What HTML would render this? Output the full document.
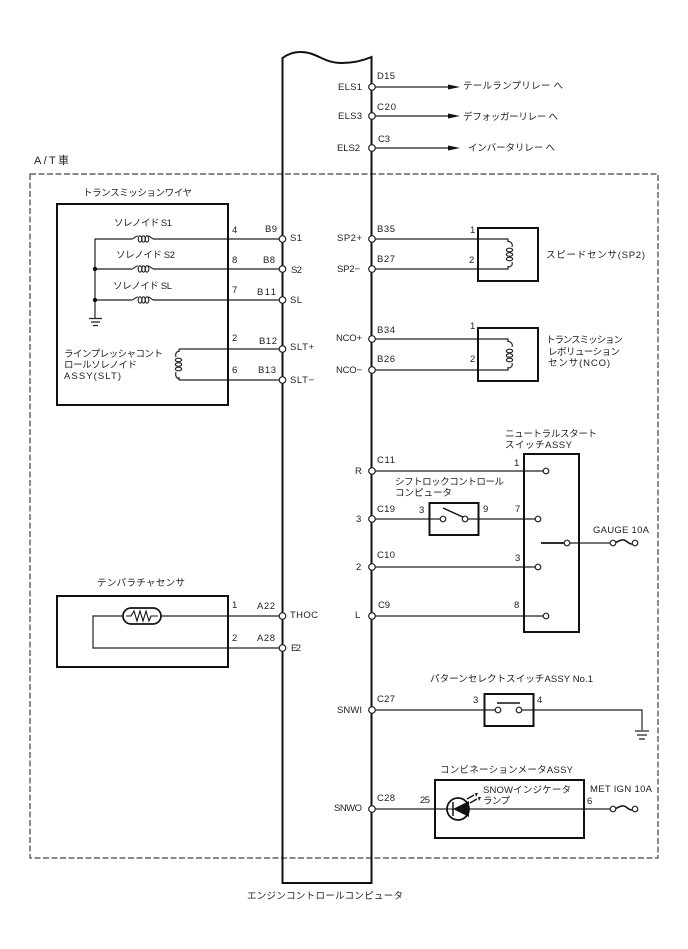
<!DOCTYPE html>
<html><head><meta charset="utf-8"><style>
html,body{margin:0;padding:0;background:#fff}
svg{display:block}
text{font-family:"Liberation Sans","Noto Sans CJK JP",sans-serif;font-size:9.5px;fill:#222}
.b{fill:none;stroke:#111;stroke-width:2}
.w{fill:none;stroke:#222;stroke-width:1.2}
.c{fill:#fff;stroke:#222;stroke-width:1.2}
.l{fill:none;stroke:#222;stroke-width:1.1}
</style></head><body>
<svg xmlns="http://www.w3.org/2000/svg" width="688" height="949" viewBox="0 0 688 949">
<rect x="30" y="174" width="628" height="684" fill="none" stroke="#444" stroke-width="1.2" stroke-dasharray="6 2.5"/>
<path class="b" d="M282.500 883V58C288 54 294 52 300 52C318 52 322 63 342 63C352 63 362 61 371.500 57V883Z"/>

<!-- wires -->
<g class="w">
<path d="M372 87H449M372 116H449M372 148H449"/>
<path d="M95 318V239H132M153 239H282M95 269H132M153 269H282M95 300H132M153 300H282"/>
<path d="M179 349V352M179 377V380M179 349H282M179 380H282"/>
<path d="M372 239H508V242M508 266V269H372M372 339H508V342M508 367V370H372"/>
<path d="M372 471H546M372 519H443M465 519H538M372 567H538M372 616H546"/>
<path d="M567 543H613"/>
<path d="M372 710H498M519 710H642V730"/>
<path d="M372 809H613"/>
<path d="M282 616H93V648H282"/>
</g>
<path d="M541 543H567" fill="none" stroke="#111" stroke-width="1.8"/>
<polygon points="448,84.500 460,87 448,89.500" fill="#111"/>
<polygon points="448,113.500 460,116 448,118.500" fill="#111"/>
<polygon points="448,145.500 460,148 448,150.500" fill="#111"/>

<!-- boxes -->
<rect class="b" x="57" y="204" width="171" height="201"/>
<rect class="b" x="478" y="228" width="60" height="53"/>
<rect class="b" x="478" y="328" width="60" height="53"/>
<rect class="b" x="524" y="454" width="55" height="178"/>
<rect class="b" x="429.500" y="503" width="49" height="32"/>
<rect class="b" x="484.500" y="694" width="49" height="32"/>
<rect class="b" x="435" y="780" width="149" height="58"/>
<rect class="b" x="57" y="596" width="171" height="71"/>

<!-- horizontal coils -->
<g class="l">
<path d="M132 239C134 239 135 236 138 236M148 236C151 236 151 239 154 239"/>
<ellipse cx="140" cy="239" rx="1.800" ry="3.200"/><ellipse cx="143.500" cy="239" rx="1.800" ry="3.200"/><ellipse cx="147" cy="239" rx="1.800" ry="3.200"/>
<path d="M132 269C134 269 135 266 138 266M148 266C151 266 151 269 154 269"/>
<ellipse cx="140" cy="269" rx="1.800" ry="3.200"/><ellipse cx="143.500" cy="269" rx="1.800" ry="3.200"/><ellipse cx="147" cy="269" rx="1.800" ry="3.200"/>
<path d="M132 300C134 300 135 297 138 297M148 297C151 297 151 300 154 300"/>
<ellipse cx="140" cy="300" rx="1.800" ry="3.200"/><ellipse cx="143.500" cy="300" rx="1.800" ry="3.200"/><ellipse cx="147" cy="300" rx="1.800" ry="3.200"/>
</g>
<!-- vertical coils -->
<g class="l">
<path d="M179 351C176 352 175 354 176 357M176 372C175 375 176 378 179 379"/>
<ellipse cx="178.500" cy="360" rx="3.200" ry="1.800"/><ellipse cx="178.500" cy="364.500" rx="3.200" ry="1.800"/><ellipse cx="178.500" cy="369" rx="3.200" ry="1.800"/>
<path d="M508 241C511 242 513 244 512 247M512 262C513 265 511 267 508 267"/>
<ellipse cx="509.500" cy="250" rx="3.200" ry="1.800"/><ellipse cx="509.500" cy="254.500" rx="3.200" ry="1.800"/><ellipse cx="509.500" cy="259" rx="3.200" ry="1.800"/>
<path d="M508 341C511 342 513 344 512 347M512 363C513 366 511 368 508 368"/>
<ellipse cx="509.500" cy="351" rx="3.200" ry="1.800"/><ellipse cx="509.500" cy="355.500" rx="3.200" ry="1.800"/><ellipse cx="509.500" cy="360" rx="3.200" ry="1.800"/>
</g>
<circle cx="95" cy="269" r="2.200" fill="#111"/>
<circle cx="95" cy="300" r="2.200" fill="#111"/>

<!-- grounds -->
<path class="w" d="M89 318.500H102M91 322H100M93 325.500H98M635 731H649M637 735H647M639 739H645"/>

<!-- thermistor -->
<rect x="123" y="608" width="38" height="16" rx="8" fill="#fff" stroke="#111" stroke-width="1.7"/>
<path d="M126 616H131L134 611L137 621L140 611L143 621L146 611L149 621L151 616H158" fill="none" stroke="#111" stroke-width="1.1"/>

<!-- switch -->
<path d="M443 508L465 518" fill="none" stroke="#111" stroke-width="1.5"/>
<path d="M497 703H520" fill="none" stroke="#111" stroke-width="1.6"/>

<!-- LED -->
<circle cx="458" cy="809" r="11" fill="#fff" stroke="#111" stroke-width="1.8"/>
<path d="M447 809H469" fill="none" stroke="#111" stroke-width="1"/>
<polygon points="453,809 469,801 469,817" fill="#111"/>
<path d="M453 802V816" stroke="#111" stroke-width="1.500"/>
<path d="M467 799L474 795M470 803L477 799" fill="none" stroke="#111" stroke-width="1.3"/>
<polygon points="475,793 478,793 476,797" fill="#111"/>
<polygon points="478,797 481,797 479,801" fill="#111"/>

<!-- fuses -->
<path d="M613 543C618 543 619 539 624 540C628 541 629 546 635 543" fill="none" stroke="#111" stroke-width="1.5"/>
<path d="M613 809C618 809 619 805 624 806C628 807 629 812 635 809" fill="none" stroke="#111" stroke-width="1.5"/>

<!-- circles -->
<g class="c">
<circle cx="372" cy="87" r="3.300"/><circle cx="372" cy="116" r="3.300"/><circle cx="372" cy="148" r="3.300"/>
<circle cx="282.500" cy="239" r="3.300"/><circle cx="282.500" cy="269" r="3.300"/><circle cx="282.500" cy="300" r="3.300"/><circle cx="282.500" cy="349" r="3.300"/><circle cx="282.500" cy="380" r="3.300"/>
<circle cx="372" cy="239" r="3.300"/><circle cx="372" cy="269" r="3.300"/><circle cx="372" cy="339" r="3.300"/><circle cx="372" cy="370" r="3.300"/>
<circle cx="372" cy="471" r="3.300"/><circle cx="372" cy="519" r="3.300"/><circle cx="372" cy="567" r="3.300"/><circle cx="372" cy="616" r="3.300"/>
<circle cx="282.500" cy="616" r="3.300"/><circle cx="282.500" cy="648" r="3.300"/>
<circle cx="372" cy="710" r="3.300"/><circle cx="372" cy="809" r="3.300"/>
<circle cx="546" cy="471" r="2.800"/><circle cx="538" cy="519" r="2.800"/><circle cx="538" cy="567" r="2.800"/><circle cx="546" cy="616" r="2.800"/><circle cx="567" cy="543" r="2.800"/>
<circle cx="443" cy="519" r="2.800"/><circle cx="465" cy="519" r="2.800"/>
<circle cx="498" cy="710" r="2.800"/><circle cx="519" cy="710" r="2.800"/>
<circle cx="613" cy="543" r="2.800"/><circle cx="635" cy="543" r="2.800"/>
<circle cx="613" cy="809" r="2.800"/><circle cx="635" cy="809" r="2.800"/>
</g>

<!-- text -->
<text x="34" y="164" textLength="35" style="font-size:11px">A/T車</text>
<text x="377" y="79" textLength="18">D15</text>
<text x="338" y="90" textLength="24">ELS1</text>
<text x="463" y="89" textLength="100">テールランプリレー へ</text>
<text x="377" y="110" textLength="19">C20</text>
<text x="338" y="119" textLength="24">ELS3</text>
<text x="463" y="120" textLength="95">デフォッガーリレー へ</text>
<text x="378" y="142" textLength="12">C3</text>
<text x="337" y="151" textLength="23">ELS2</text>
<text x="468" y="151" textLength="87">インバータリレー へ</text>

<text x="83" y="196" textLength="109">トランスミッションワイヤ</text>
<text x="114" y="226" textLength="58">ソレノイド S1</text>
<text x="116" y="258" textLength="59">ソレノイド S2</text>
<text x="113" y="289" textLength="59">ソレノイド SL</text>
<text x="232" y="233">4</text><text x="232" y="263">8</text><text x="232" y="293">7</text><text x="232" y="341">2</text><text x="232" y="373">6</text>
<text x="265" y="232" textLength="12">B9</text>
<text x="263" y="263" textLength="12">B8</text>
<text x="257" y="295" textLength="19">B11</text>
<text x="259" y="344" textLength="18">B12</text>
<text x="258" y="373" textLength="18">B13</text>
<text x="290" y="241" textLength="12">S1</text>
<text x="291" y="273" textLength="11">S2</text>
<text x="290" y="303" textLength="12">SL</text>
<text x="290" y="350" textLength="24">SLT+</text>
<text x="290" y="383" textLength="24">SLT−</text>
<text x="64" y="357" textLength="99">ラインプレッシャコント</text>
<text x="64" y="368" textLength="73">ロールソレノイド</text>
<text x="64" y="379" textLength="57">ASSY(SLT)</text>

<text x="377" y="232" textLength="18">B35</text>
<text x="377" y="262" textLength="18">B27</text>
<text x="470" y="233">1</text><text x="469" y="263">2</text>
<text x="337" y="241" textLength="25">SP2+</text>
<text x="337" y="272" textLength="23">SP2−</text>
<text x="546" y="258" textLength="99">スピードセンサ(SP2)</text>
<text x="377" y="333" textLength="18">B34</text>
<text x="377" y="362" textLength="18">B26</text>
<text x="470" y="329">1</text><text x="470" y="362">2</text>
<text x="336" y="341" textLength="26">NCO+</text>
<text x="336" y="373" textLength="26">NCO−</text>
<text x="546" y="343" textLength="77">トランスミッション</text>
<text x="548" y="355" textLength="72">レボリューション</text>
<text x="548" y="366" textLength="62">センサ(NCO)</text>

<text x="505" y="437" textLength="92">ニュートラルスタート</text>
<text x="505" y="448" textLength="67">スイッチASSY</text>
<text x="377" y="463" textLength="18">C11</text>
<text x="355" y="474">R</text>
<text x="514" y="466">1</text>
<text x="395" y="485" textLength="109">シフトロックコントロール</text>
<text x="395" y="496" textLength="57">コンピュータ</text>
<text x="377" y="512" textLength="18">C19</text>
<text x="356" y="522">3</text>
<text x="419" y="513">3</text><text x="483" y="512">9</text><text x="515" y="512">7</text>
<text x="593" y="533" textLength="56">GAUGE 10A</text>
<text x="377" y="558" textLength="18">C10</text>
<text x="356" y="570">2</text><text x="515" y="561">3</text>
<text x="378" y="608" textLength="12">C9</text>
<text x="355" y="618">L</text><text x="514" y="608">8</text>

<text x="430" y="682" textLength="163">パターンセレクトスイッチASSY No.1</text>
<text x="377" y="702" textLength="18">C27</text>
<text x="337" y="713" textLength="25">SNWI</text>
<text x="473" y="703">3</text><text x="537" y="703">4</text>
<text x="440" y="773" textLength="133">コンビネーションメータASSY</text>
<text x="483" y="793" textLength="88">SNOWインジケータ</text>
<text x="483" y="804" textLength="27">ランプ</text>
<text x="590" y="792" textLength="62">MET IGN 10A</text>
<text x="377" y="801" textLength="18">C28</text>
<text x="420" y="803" textLength="10">25</text>
<text x="587" y="804">6</text>
<text x="334" y="811" textLength="28">SNWO</text>

<text x="97" y="586" textLength="88">テンパラチャセンサ</text>
<text x="232" y="608">1</text>
<text x="257" y="609" textLength="18">A22</text>
<text x="290" y="618" textLength="28">THOC</text>
<text x="232" y="641">2</text>
<text x="257" y="641" textLength="18">A28</text>
<text x="291" y="651" textLength="10">E2</text>
<text x="247" y="899" textLength="156">エンジンコントロールコンピュータ</text>
</svg>
</body></html>
